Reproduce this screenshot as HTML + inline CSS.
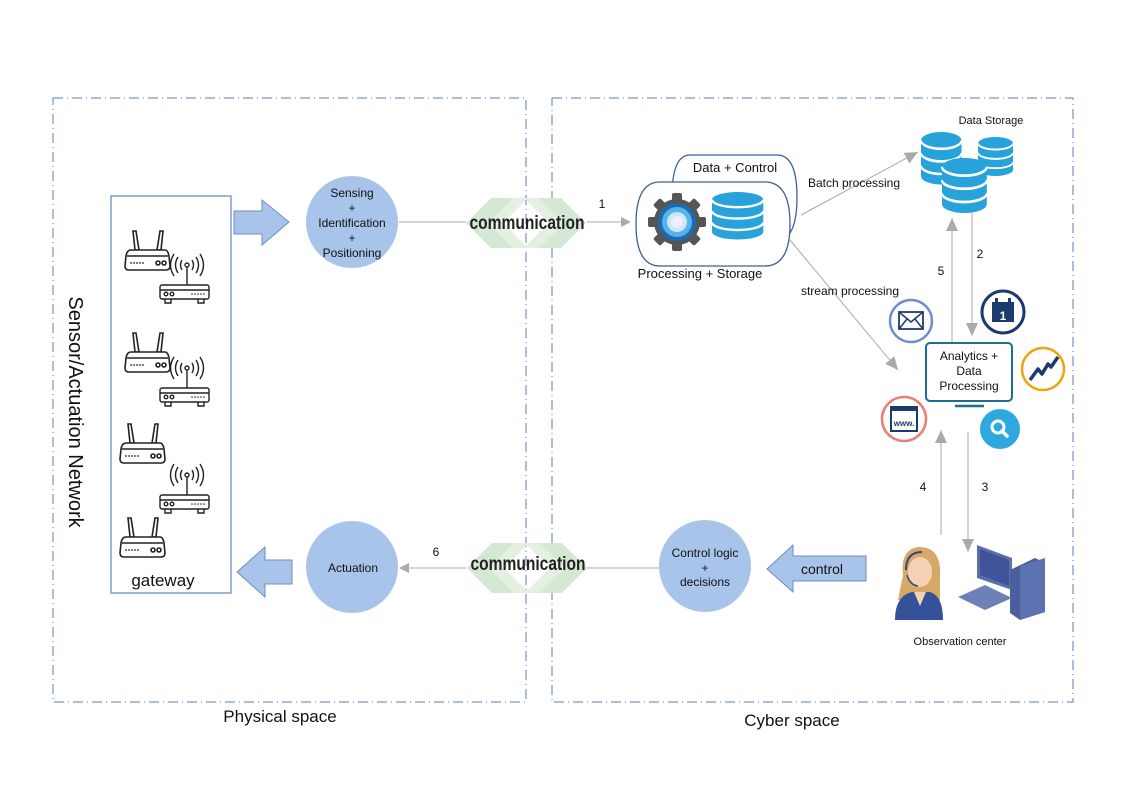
<!DOCTYPE html>
<html><head><meta charset="utf-8"><style>
html,body{margin:0;padding:0;background:#fff;}
svg{display:block;font-family:"Liberation Sans",sans-serif;}
</style></head><body>
<svg width="1123" height="794" viewBox="0 0 1123 794" xmlns="http://www.w3.org/2000/svg">
<defs>
<marker id="ar" markerWidth="10" markerHeight="10" refX="9" refY="5" orient="auto" markerUnits="userSpaceOnUse">
<path d="M0,0 L10,5 L0,10 Z" fill="#aaa"/></marker>
<marker id="arb" markerWidth="14" markerHeight="14" refX="13" refY="7" orient="auto" markerUnits="userSpaceOnUse">
<path d="M0,1 L13,7 L0,13 Z" fill="#aaa"/></marker>
<g id="router" fill="none" stroke="#222" stroke-width="1.6">
<path d="M8,3 L11,3 L14,22 L10,22 Z M35,3 L38,3 L36,22 L32,22 Z" fill="#fff"/>
<path d="M6,22 L40,22 Q43,22 44,28 L45,38 Q45,42 41,42 L4,42 Q0,42 0,38 L1,28 Q2,22 6,22 Z" fill="#fff"/>
<line x1="2" y1="28" x2="43" y2="28"/>
<g fill="#222" stroke="none"><circle cx="6" cy="35" r="0.9"/><circle cx="9" cy="35" r="0.9"/><circle cx="12" cy="35" r="0.9"/><circle cx="15" cy="35" r="0.9"/><circle cx="18" cy="35" r="0.9"/></g>
<circle cx="33" cy="35" r="2"/><circle cx="39" cy="35" r="2"/>
</g>
<g id="modem" fill="none" stroke="#222" stroke-width="1.4">
<circle cx="28" cy="12" r="2"/>
<path d="M23,7 Q20,12 23,17 M33,7 Q36,12 33,17 M19,4 Q14,12 19,20 M37,4 Q42,12 37,20 M15,1 Q8,12 15,23 M41,1 Q48,12 41,23"/>
<line x1="28" y1="14" x2="28" y2="32"/>
<rect x="1" y="32" width="49" height="14" rx="2" fill="#fff"/>
<line x1="1" y1="37" x2="50" y2="37"/>
<circle cx="7" cy="41" r="1.8"/><circle cx="13" cy="41" r="1.8"/>
<g fill="#222" stroke="none"><circle cx="33" cy="41" r="0.8"/><circle cx="36" cy="41" r="0.8"/><circle cx="39" cy="41" r="0.8"/><circle cx="42" cy="41" r="0.8"/><circle cx="45" cy="41" r="0.8"/></g>
<path d="M6,46 L6,50 L12,50 L12,46 M39,46 L39,50 L45,50 L45,46"/>
</g>
<g id="chev">
<path d="M0,25 L25,0 L48,0 L23,25 L48,50 L25,50 Z" fill="#d5e8d4"/>
<path d="M22,25 L47,0 L62,0 L37,25 L62,50 L47,50 Z" fill="#e4f0e2"/>
<path d="M120,25 L95,0 L72,0 L97,25 L72,50 L95,50 Z" fill="#d5e8d4"/>
<path d="M98,25 L73,0 L58,0 L83,25 L58,50 L73,50 Z" fill="#e4f0e2"/>
</g>
<g id="db">
<path d="M0,8 A27,8 0 0 1 54,8 L54,42 A27,8 0 0 1 0,42 Z" fill="#27a2db"/>
<path d="M0,8 A27,8 0 0 0 54,8" fill="none" stroke="#fff" stroke-width="2.5"/>
<path d="M0,20 A27,8 0 0 0 54,20" fill="none" stroke="#fff" stroke-width="2.5"/>
<path d="M0,32 A27,8 0 0 0 54,32" fill="none" stroke="#fff" stroke-width="2.5"/>
</g>
</defs>

<rect x="53" y="98" width="473" height="604" fill="none" stroke="#5a7dbf" stroke-width="1" stroke-dasharray="10,4,1,4"/>
<rect x="552" y="98" width="521" height="604" fill="none" stroke="#5a7dbf" stroke-width="1" stroke-dasharray="10,4,1,4"/>
<text x="280" y="722" font-size="17" text-anchor="middle" fill="#111">Physical space</text>
<text x="792" y="726" font-size="17" text-anchor="middle" fill="#111">Cyber space</text>

<text transform="translate(69,412) rotate(90)" font-size="20" text-anchor="middle" fill="#111">Sensor/Actuation Network</text>

<rect x="111" y="196" width="120" height="397" fill="#fff" stroke="#6c8ebf" stroke-width="1.3"/>
<use href="#router" x="125" y="228"/>
<use href="#modem" x="159" y="253"/>
<use href="#router" x="125" y="330"/>
<use href="#modem" x="159" y="356"/>
<use href="#router" x="120" y="421"/>
<use href="#modem" x="159" y="463"/>
<use href="#router" x="120" y="515"/>
<text x="163" y="586" font-size="17" text-anchor="middle" fill="#111">gateway</text>

<path d="M234,211 L262,211 L262,200 L289,222 L262,245 L262,234 L234,234 Z" fill="#a9c4eb" stroke="#6c8ebf"/>
<path d="M292,560 L265,560 L265,547 L237,572 L265,597 L265,584 L292,584 Z" fill="#a9c4eb" stroke="#6c8ebf"/>
<path d="M866,556 L793,556 L793,545 L767,569 L793,592 L793,581 L866,581 Z" fill="#a9c4eb" stroke="#6c8ebf"/>
<text x="822" y="574" font-size="14" text-anchor="middle" fill="#111">control</text>

<circle cx="352" cy="222" r="46" fill="#a9c4eb"/>
<text font-size="12" text-anchor="middle" fill="#111"><tspan x="352" y="197">Sensing</tspan><tspan x="352" y="212">+</tspan><tspan x="352" y="227">Identification</tspan><tspan x="352" y="242">+</tspan><tspan x="352" y="257">Positioning</tspan></text>
<circle cx="352" cy="567" r="46" fill="#a9c4eb"/>
<text x="353" y="572" font-size="12" text-anchor="middle" fill="#111">Actuation</text>
<circle cx="705" cy="566" r="46" fill="#a9c4eb"/>
<text font-size="12" text-anchor="middle" fill="#111"><tspan x="705" y="557">Control logic</tspan><tspan x="705" y="572">+</tspan><tspan x="705" y="586">decisions</tspan></text>

<line x1="399" y1="222" x2="466" y2="222" stroke="#aaa"/>
<use href="#chev" x="466" y="198"/>
<text x="527" y="229" font-size="19" font-weight="bold" text-anchor="middle" fill="#222" transform="translate(527,0) scale(0.82,1) translate(-527,0)">communication</text>
<line x1="587" y1="222" x2="630" y2="222" stroke="#aaa" marker-end="url(#ar)"/>
<text x="602" y="208" font-size="12" text-anchor="middle" fill="#111">1</text>

<line x1="660" y1="568" x2="586" y2="568" stroke="#aaa"/>
<use href="#chev" x="467" y="543"/>
<text x="528" y="570" font-size="19" font-weight="bold" text-anchor="middle" fill="#222" transform="translate(528,0) scale(0.82,1) translate(-528,0)">communication</text>
<line x1="466" y1="568" x2="400" y2="568" stroke="#aaa" marker-end="url(#ar)"/>
<text x="436" y="556" font-size="12" text-anchor="middle" fill="#111">6</text>

<path d="M690,155 L777,155 Q797,155 797,197 Q797,240 777,240 L690,240 Q672,240 672,197 Q672,155 690,155 Z" fill="#fff" stroke="#3d5f9e" stroke-width="1.3"/>
<text x="735" y="172" font-size="13" text-anchor="middle" fill="#111">Data + Control</text>
<path d="M660,182 L765,182 Q790,182 790,224 Q790,266 765,266 L660,266 Q636,266 636,224 Q636,182 660,182 Z" fill="#fff" stroke="#3d5f9e" stroke-width="1.3"/>
<text x="700" y="278" font-size="13" text-anchor="middle" fill="#111">Processing + Storage</text>
<g transform="translate(677,222)">
<circle r="23" fill="#555"/>
<g fill="#555"><rect x="-5" y="-29" width="10" height="58" rx="2"/><rect x="-5" y="-29" width="10" height="58" rx="2" transform="rotate(45)"/><rect x="-5" y="-29" width="10" height="58" rx="2" transform="rotate(90)"/><rect x="-5" y="-29" width="10" height="58" rx="2" transform="rotate(135)"/></g>
<circle r="19" fill="#1b6bb5"/>
<circle r="15" fill="#56b4ea"/>
<circle r="10" fill="#cde7f7"/>
<circle r="6" fill="#eef"/>
</g>
<use href="#db" x="712" y="192" transform="translate(712,192) scale(0.95) translate(-712,-192)"/>

<line x1="801" y1="215" x2="918" y2="152" stroke="#aaa" marker-end="url(#arb)"/>
<text x="854" y="187" font-size="12" text-anchor="middle" fill="#111">Batch processing</text>
<line x1="790" y1="240" x2="898" y2="370" stroke="#aaa" marker-end="url(#arb)"/>
<text x="850" y="295" font-size="12" text-anchor="middle" fill="#111">stream processing</text>

<text x="991" y="124" font-size="11" text-anchor="middle" fill="#111">Data Storage</text>
<use href="#db" transform="translate(921,132) scale(0.75,1.05)"/>
<use href="#db" transform="translate(978,137) scale(0.65,0.78)"/>
<use href="#db" transform="translate(942,158) scale(0.83,1.1)"/>

<line x1="952" y1="343" x2="952" y2="218" stroke="#aaa" marker-end="url(#arb)"/>
<line x1="972" y1="212" x2="972" y2="336" stroke="#aaa" marker-end="url(#arb)"/>
<text x="941" y="275" font-size="12" text-anchor="middle" fill="#111">5</text>
<text x="980" y="258" font-size="12" text-anchor="middle" fill="#111">2</text>
<line x1="941" y1="535" x2="941" y2="430" stroke="#aaa" marker-end="url(#arb)"/>
<line x1="968" y1="432" x2="968" y2="552" stroke="#aaa" marker-end="url(#arb)"/>
<text x="923" y="491" font-size="12" text-anchor="middle" fill="#111">4</text>
<text x="985" y="491" font-size="12" text-anchor="middle" fill="#111">3</text>

<rect x="926" y="343" width="86" height="58" rx="4" fill="#fff" stroke="#1a6e96" stroke-width="2"/>
<text font-size="12" text-anchor="middle" fill="#111"><tspan x="969" y="360">Analytics +</tspan><tspan x="969" y="375">Data</tspan><tspan x="969" y="390">Processing</tspan></text>
<line x1="955" y1="406" x2="984" y2="406" stroke="#1a6e96" stroke-width="2.5"/>
<circle cx="911" cy="321" r="21" fill="#fff" stroke="#6a8fce" stroke-width="2.5"/>
<rect x="899" y="312" width="24" height="17" fill="none" stroke="#1d3a6e" stroke-width="1.8"/>
<path d="M899,312 L911,322 L923,312 M899,329 L907,319 M923,329 L915,319" fill="none" stroke="#1d3a6e" stroke-width="1.5"/>
<circle cx="1003" cy="312" r="21" fill="#fff" stroke="#1d3a6e" stroke-width="3"/>
<rect x="992" y="302" width="22" height="20" fill="#1d3a6e"/>
<rect x="995" y="298" width="3" height="6" fill="#1d3a6e"/><rect x="1008" y="298" width="3" height="6" fill="#1d3a6e"/>
<text x="1003" y="320" font-size="12" font-weight="bold" text-anchor="middle" fill="#fff">1</text>
<circle cx="1043" cy="369" r="21" fill="#fff" stroke="#f0a30a" stroke-width="2.5"/>
<path d="M1030,380 L1038,369 L1042,374 L1048,364 L1051,367 L1058,357" fill="none" stroke="#1d3a6e" stroke-width="3.5" stroke-linejoin="round"/>
<circle cx="904" cy="419" r="22" fill="#fff" stroke="#ea7e74" stroke-width="2.5"/>
<rect x="891" y="407" width="26" height="24" fill="none" stroke="#1d3a6e" stroke-width="2"/>
<rect x="891" y="407" width="26" height="4" fill="#1d3a6e"/>
<text x="904" y="426" font-size="8" font-weight="bold" text-anchor="middle" fill="#1d3a6e">www.</text>
<circle cx="1000" cy="429" r="20" fill="#2ea9df"/>
<circle cx="998" cy="427" r="6" fill="none" stroke="#fff" stroke-width="3"/>
<line x1="1002" y1="431" x2="1007" y2="436" stroke="#fff" stroke-width="3.5" stroke-linecap="round"/>

<g>
<path d="M903,575 Q900,550 918,547 Q938,546 940,568 L940,600 L898,600 Z" fill="#d7a868"/>
<ellipse cx="920" cy="572" rx="12" ry="15" fill="#f5d2b4"/>
<path d="M895,620 Q895,596 912,592 L930,592 Q943,596 943,620 Z" fill="#34519a"/>
<path d="M914,592 L920,606 L926,592 Z" fill="#f5d2b4"/>
<path d="M906,570 Q906,552 922,552" fill="none" stroke="#2b4a7e" stroke-width="2"/>
<path d="M907,575 Q910,585 918,586" fill="none" stroke="#2b4a7e" stroke-width="1.5"/>
</g>
<g>
<path d="M977,545 L1012,558 L1012,590 L977,578 Z" fill="#5c6fa8"/>
<path d="M980,549 L1009,560 L1009,586 L980,575 Z" fill="#3e539a"/>
<path d="M1010,570 L1035,558 L1045,563 L1045,612 L1020,620 L1010,613 Z" fill="#4b5f9f"/>
<path d="M1020,566 L1045,558 L1045,612 L1020,620 Z" fill="#5d72b0"/>
<path d="M958,597 L985,585 L1012,598 L985,610 Z" fill="#6d80b8"/>
</g>
<text x="960" y="645" font-size="11" text-anchor="middle" fill="#111">Observation center</text>
</svg>
</body></html>
